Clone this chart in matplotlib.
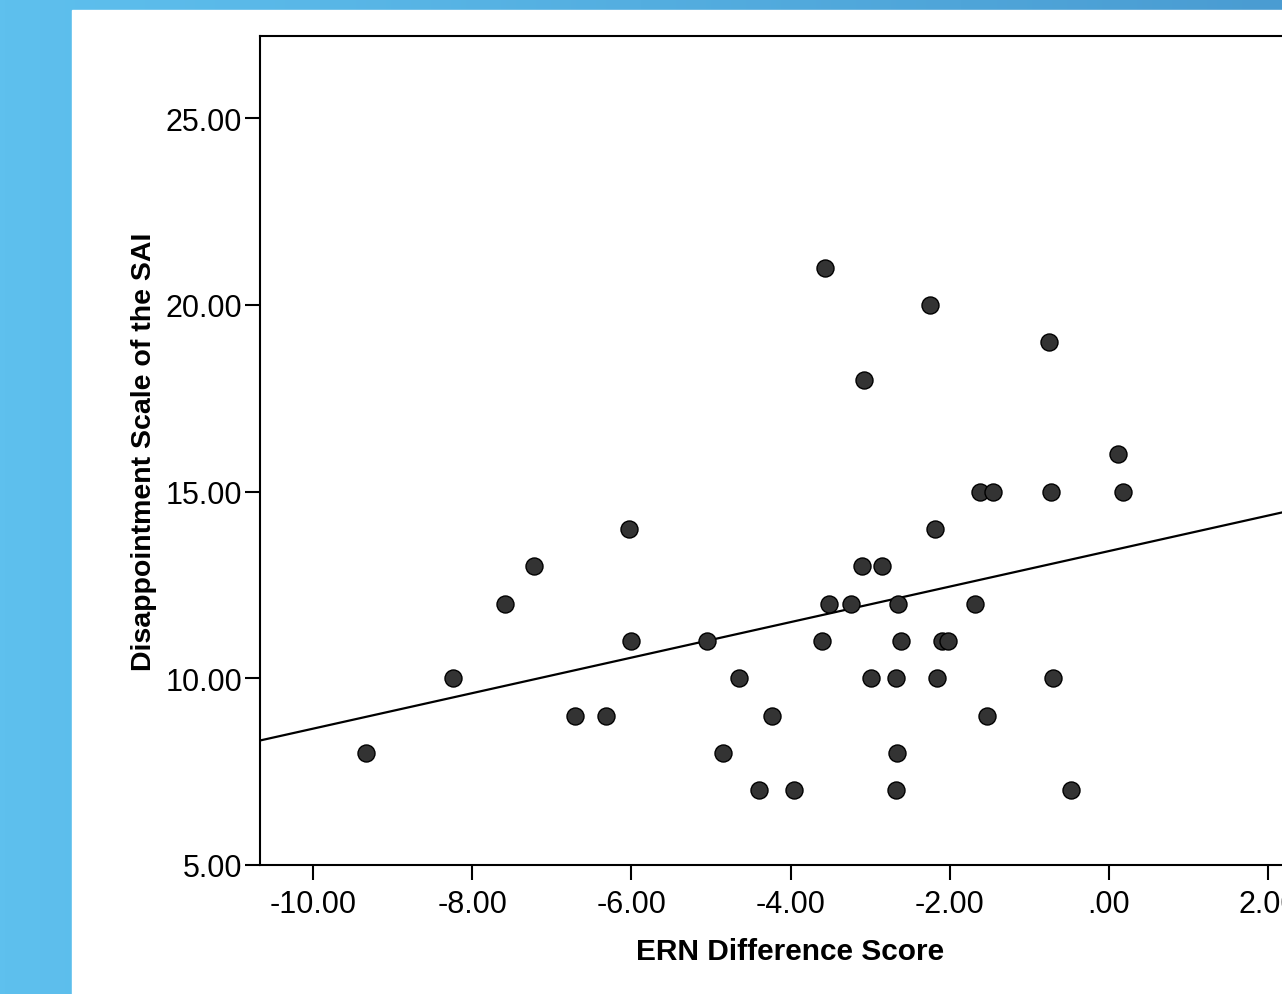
import numpy as np
import matplotlib
matplotlib.use("Agg")
import matplotlib.pyplot as plt
from matplotlib.colors import LinearSegmentedColormap

plt.rcParams['font.family'] = ['Liberation Sans', 'DejaVu Sans']

# ERN difference score vs disappointment scale
ern = [-9.33, -8.24, -7.59, -7.22, -6.71, -6.32, -6.03, -6.00, -5.05, -4.85,
       -4.65, -4.40, -4.23, -3.96, -3.57, -3.61, -3.52, -3.24, -3.10, -3.08,
       -2.99, -2.85, -2.68, -2.68, -2.66, -2.65, -2.61, -2.25, -2.19, -2.16,
       -2.10, -2.02, -1.68, -1.62, -1.53, -1.46, -0.75, -0.73, -0.70, -0.48,
       0.11, 0.18]
sai = [8, 10, 12, 13, 9, 9, 14, 11, 11, 8,
       10, 7, 9, 7, 21, 11, 12, 12, 13, 18,
       10, 13, 10, 7, 8, 12, 11, 20, 14, 10,
       11, 11, 12, 15, 9, 15, 19, 15, 10, 7,
       16, 15]

xticks = [-10, -8, -6, -4, -2, 0, 2]
xticklabels = ['-10.00', '-8.00', '-6.00', '-4.00', '-2.00', '.00', '2.00']
yticks = [5, 10, 15, 20, 25]
yticklabels = ['5.00', '10.00', '15.00', '20.00', '25.00']

fig = plt.figure(figsize=(12.82, 9.95), dpi=100)

# blue slide background with a white panel
bg = fig.add_axes([0, 0, 1, 1])
cmap = LinearSegmentedColormap.from_list('bluegrad', ['#5EC0EE', '#4A9CD2'])
bg.imshow(np.linspace(0, 1, 256).reshape(1, -1), aspect='auto', cmap=cmap,
          extent=[0, 1, 0, 1])
bg.add_patch(plt.Rectangle((72 / 1282, 0), 1, (995 - 11) / 995, color='white'))
bg.set_xlim(0, 1)
bg.set_ylim(0, 1)
bg.axis('off')

ax = fig.add_axes([260 / 1282, 129 / 995, 1060 / 1282, 829 / 995])
ax.scatter(ern, sai, s=150, c='#333333', edgecolors='black', linewidths=1.0,
           zorder=3)

slope, intercept = np.polyfit(ern, sai, 1)
xl = np.array([-10.666, 2.65])
ax.plot(xl, slope * xl + intercept, color='black', lw=1.6, zorder=2)

ax.set_xlim(-10.666, 2.65)
ax.set_ylim(5, 27.2)
ax.set_xticks(xticks)
ax.set_xticklabels(xticklabels)
ax.set_yticks(yticks)
ax.set_yticklabels(yticklabels)
ax.tick_params(length=11, width=1.5, labelsize=22)
ax.tick_params(axis='y', pad=2)
ax.tick_params(axis='x', pad=6)
for sp in ax.spines.values():
    sp.set_linewidth(1.5)

ax.set_xlabel('ERN Difference Score', fontsize=21.5, fontweight='bold',
              labelpad=13)
ax.set_ylabel('Disappointment Scale of the SAI', fontsize=20.5,
              fontweight='bold', labelpad=6)

fig.savefig('out.png', dpi=100)
